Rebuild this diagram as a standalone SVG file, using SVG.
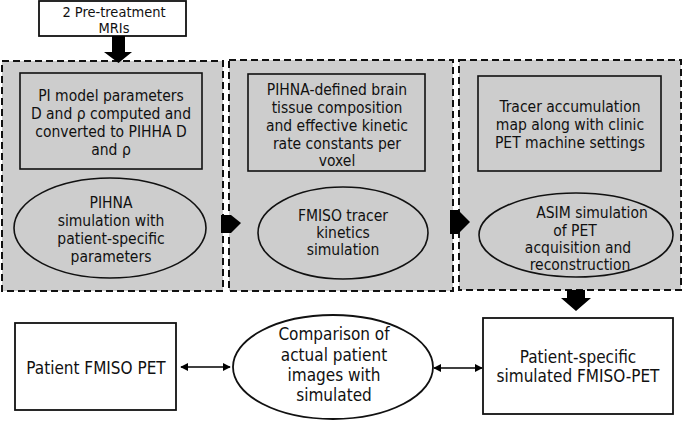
<svg xmlns="http://www.w3.org/2000/svg" width="683" height="422" viewBox="0 0 683 422">
<defs>
<style>
.panel{fill:#cdcdcd;stroke:#111;stroke-width:2;stroke-dasharray:7 4}
.box{fill:#cdcdcd;stroke:#111;stroke-width:1.6}
.wbox{fill:#fff;stroke:#111;stroke-width:1.8}
.ell{fill:#cdcdcd;stroke:#111;stroke-width:1.6}
.well{fill:#fff;stroke:#111;stroke-width:1.8}
text{font-family:"DejaVu Sans","Liberation Sans",sans-serif;font-stretch:condensed;font-size:15.5px;fill:#111;text-anchor:middle}
.big{font-size:17px}
.cmp{font-size:17px}
.sm{font-size:14.5px}
.blk{fill:#000}
.conn{stroke:#000;stroke-width:1.6;fill:none}
</style>
<marker id="ah" viewBox="0 0 10 10" refX="9" refY="5" markerWidth="8" markerHeight="8" markerUnits="userSpaceOnUse" orient="auto-start-reverse">
<path d="M0,0 L10,5 L0,10 z" fill="#000"/>
</marker>
</defs>
<rect width="683" height="422" fill="#fff"/>

<g id="panel1">
<rect class="panel" x="2" y="61" width="221" height="230"/>
</g>
<g id="panel2">
<rect class="panel" x="229" y="60" width="224" height="231"/>
</g>
<g id="panel3">
<rect class="panel" x="459" y="60" width="222" height="230"/>
</g>

<g id="mri">
<rect class="wbox" x="39" y="1" width="147" height="35"/>
<text class="sm" x="114" y="17">2 Pre-treatment</text>
<text class="sm" x="114" y="33">MRIs</text>
</g>

<g id="pi-params">
<rect class="box" x="20" y="73" width="182" height="96"/>
<text x="111" y="101">PI model parameters</text>
<text x="111" y="119">D and ρ computed and</text>
<text x="111" y="137">converted to PIHHA D</text>
<text x="111" y="155">and ρ</text>
</g>

<g id="pihna-sim">
<ellipse class="ell" cx="110" cy="228" rx="96" ry="50"/>
<text x="111" y="208">PIHNA</text>
<text x="111" y="226">simulation with</text>
<text x="111" y="244">patient-specific</text>
<text x="111" y="262">parameters</text>
</g>

<g id="tissue">
<rect class="box" x="248" y="74" width="177" height="97"/>
<text x="337" y="95">PIHNA-defined brain</text>
<text x="337" y="113">tissue composition</text>
<text x="337" y="131">and effective kinetic</text>
<text x="337" y="149">rate constants per</text>
<text x="337" y="166">voxel</text>
</g>

<g id="fmiso-sim">
<ellipse class="ell" cx="343" cy="233" rx="85" ry="46"/>
<text x="343" y="221">FMISO tracer</text>
<text x="343" y="238">kinetics</text>
<text x="343" y="255">simulation</text>
</g>

<g id="tracer-map">
<rect class="box" x="478" y="76" width="183" height="95"/>
<text x="570" y="112">Tracer accumulation</text>
<text x="570" y="130">map along with clinic</text>
<text x="570" y="148">PET machine settings</text>
</g>

<g id="asim-sim">
<ellipse class="ell" cx="576" cy="235" rx="97" ry="42"/>
<text x="592" y="218">ASIM simulation</text>
<text x="575" y="236">of PET</text>
<text x="578" y="253">acquisition and</text>
<text x="580" y="270">reconstruction</text>
</g>

<g id="patient-pet">
<rect class="wbox" x="15" y="323" width="161" height="87"/>
<text class="big" x="96" y="374">Patient FMISO PET</text>
</g>

<g id="comparison">
<ellipse class="well" cx="333" cy="367" rx="100" ry="52"/>
<text class="cmp" x="334" y="340">Comparison of</text>
<text class="cmp" x="334" y="361">actual patient</text>
<text class="cmp" x="334" y="381">images with</text>
<text class="cmp" x="334" y="401">simulated</text>
</g>

<g id="simulated-pet">
<rect class="wbox" x="483" y="318" width="190" height="96"/>
<text class="big" x="578" y="363">Patient-specific</text>
<text class="big" x="578" y="382">simulated FMISO-PET</text>
</g>

<g id="connectors">
<polygon class="blk" points="112,36 125,36 125,52 132,52 118.5,63 104,52 112,52"/>
<polygon class="blk" points="221,215 231,215 241,223 231,233 221,233"/>
<polygon class="blk" points="450,210 458,210 470,222 458,234 450,234"/>
<polygon class="blk" points="567,290 585,290 585,298 591,298 576,311 561,298 567,298"/>
<line class="conn" x1="181" y1="367" x2="230" y2="367" marker-start="url(#ah)" marker-end="url(#ah)"/>
<line class="conn" x1="434" y1="368" x2="482" y2="368" marker-start="url(#ah)" marker-end="url(#ah)"/>
</g>
</svg>
